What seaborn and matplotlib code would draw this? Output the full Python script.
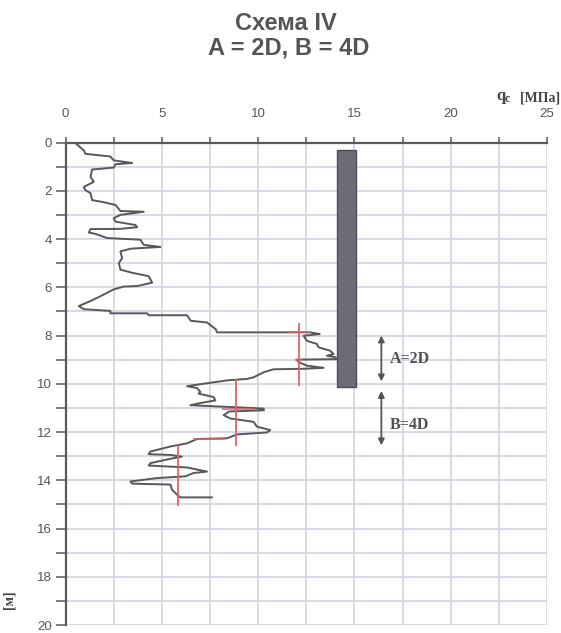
import numpy as np
import pandas as pd
import matplotlib
matplotlib.use("Agg")
import matplotlib.pyplot as plt
import seaborn as sns

# ---------------- data ----------------
depth_m = [0.05, 0.08, 0.33, 0.47, 0.58, 0.74, 0.85, 0.90, 1.04, 1.12, 1.43, 1.63, 1.70, 1.84, 1.98,
           2.10, 2.39, 2.46, 2.59, 2.84, 2.87, 3.00, 3.14, 3.28, 3.42, 3.51, 3.58, 3.59, 3.73,
           3.79, 3.96, 4.03, 4.24, 4.33, 4.40, 4.51, 4.79, 5.00, 5.27, 5.40, 5.54, 5.81, 5.95,
           5.97, 6.09, 6.37, 6.57, 6.78, 6.91, 6.98, 7.08, 7.08, 7.16, 7.16, 7.39, 7.46, 7.74,
           7.87, 7.87, 7.94, 8.01, 8.22, 8.35, 8.49, 8.63, 8.77, 8.84, 8.90, 8.98, 9.00, 9.10,
           9.25, 9.34, 9.38, 9.40, 9.52, 9.73, 9.80, 9.86, 10.00, 10.10, 10.18, 10.34, 10.41,
           10.55, 10.69, 10.80, 10.89, 10.93, 10.98, 11.03, 11.10, 11.15, 11.30, 11.44, 11.58,
           11.78, 11.92, 12.02, 12.10, 12.26, 12.29, 12.47, 12.60, 12.81, 12.92, 12.95, 13.02,
           13.11, 13.29, 13.39, 13.47, 13.64, 13.70, 13.84, 13.91, 14.05, 14.14, 14.18, 14.39,
           14.60, 14.71, 14.71]
qc_mpa = [0.55, 0.60, 0.95, 1.04, 2.33, 2.50, 3.46, 2.60, 2.50, 1.38, 1.30, 1.47, 1.30, 0.95, 1.04,
          1.30, 1.38, 1.90, 2.60, 2.85, 4.06, 2.85, 2.50, 2.60, 3.63, 3.72, 2.85, 1.30, 1.21,
          1.56, 2.16, 3.89, 4.06, 4.93, 3.40, 2.85, 2.94, 2.77, 2.85, 3.46, 4.32, 4.50, 3.72,
          3.03, 2.50, 1.82, 1.30, 0.69, 0.95, 2.33, 2.33, 4.24, 4.32, 6.31, 6.50, 7.35, 7.80,
          7.87, 12.70, 13.20, 12.36, 12.53, 13.05, 13.14, 13.74, 13.92, 13.57, 14.00, 14.09, 12.00, 12.10,
          12.53, 13.40, 12.36, 10.80, 10.30, 9.77, 9.42, 8.39, 7.17, 6.31, 6.83, 7.00, 6.91,
          7.69, 7.78, 7.00, 6.48, 7.60, 9.00, 10.29, 10.30, 8.50, 8.21, 8.56, 9.77,
          9.94, 10.63, 10.46, 8.90, 8.39, 6.83, 6.31, 5.45, 4.41, 4.32, 5.45, 6.05,
          5.45, 4.41, 4.32, 6.31, 7.35, 6.65, 6.22, 4.75, 3.37, 3.46, 5.45, 5.53,
          5.79, 5.96, 7.61]

# pile
pile_left, pile_right = 14.1, 15.1
pile_top, pile_bottom = 0.33, 10.15

# zone averages (red marks): x, depth from, depth to
avg_x = [12.14, 8.85, 5.84]
avg_top = [7.5, 9.8, 12.55]
avg_bot = [10.1, 12.6, 15.05]
# short red horizontal marks: depth, x from, x to
mark_depth = [7.87, 9.00, 11.03, 12.29]
mark_x0 = [11.5, 11.93, 8.13, 6.6]
mark_x1 = [12.7, 12.28, 9.77, 8.3]

# zone arrows
zone_labels = ["A=2D", "B=4D"]
zone_top = [8.0, 10.3]
zone_bot = [9.9, 12.55]
zone_text_y = [8.97, 11.7]
arrow_x = 16.4

x_major = [0, 5, 10, 15, 20, 25]
y_major = list(range(0, 21, 2))

# ---------------- style ----------------
sns.set_theme(style="white")
plt.rcParams["font.family"] = ["Liberation Sans", "DejaVu Sans"]

W, H = 561, 633
fig = plt.figure(figsize=(W / 100, H / 100), dpi=100)
ax = fig.add_axes([65.5 / W, 1 - 625 / H, (547 - 65.5) / W, (625 - 142.5) / H])

grid_c = "#d6d6e6"
for gx in np.arange(0, 25.01, 2.5):
    ax.axvline(gx, color=grid_c, lw=1.3, zorder=0)
for gy in range(0, 21):
    ax.axhline(gy, color=grid_c, lw=1.3, zorder=0)

df = pd.DataFrame({"depth": depth_m, "qc": qc_mpa})
sns.lineplot(data=df, x="qc", y="depth", sort=False, estimator=None,
             color="#585858", lw=1.4, ax=ax, zorder=3)

# pile
ax.bar(x=(pile_left + pile_right) / 2, height=pile_bottom - pile_top, bottom=pile_top,
       width=pile_right - pile_left, color="#6c6c76", edgecolor="#4e4e56", lw=1.0, zorder=4)

# red average lines
ax.vlines(avg_x, avg_top, avg_bot, color="#e06464", lw=1.3, zorder=5)
ax.hlines(mark_depth, mark_x0, mark_x1, color="#d86464", lw=1.1, zorder=5)

# zone arrows
for lab, t, b, ty in zip(zone_labels, zone_top, zone_bot, zone_text_y):
    ax.annotate("", xy=(arrow_x, t), xytext=(arrow_x, b),
                arrowprops=dict(arrowstyle="<|-|>", color="#555555", lw=1.3,
                                mutation_scale=9, shrinkA=0, shrinkB=0), zorder=6)
    ax.text(arrow_x + 0.45, ty, lab, fontsize=11.5, fontweight="bold",
            family=["Liberation Serif", "DejaVu Serif"], color="#505050",
            va="center", ha="left")

ax.set_xlim(0, 25)
ax.set_ylim(20, 0)
ax.xaxis.tick_top()
ax.set_xticks(x_major)
ax.set_xticks(np.arange(2.5, 25, 5), minor=True)
ax.set_yticks(y_major)
ax.set_yticks(range(1, 20, 2), minor=True)
ax.set_xticklabels([str(v) for v in x_major])
ax.set_yticklabels([str(v) for v in y_major])
ax.tick_params(axis="x", which="both", top=True, bottom=False, direction="out",
               length=4, width=1.2, color="#666666", pad=12, labelsize=9.5,
               labelcolor="#555555")
ax.tick_params(axis="y", which="both", left=True, direction="out",
               length=7, width=1.2, color="#666666", pad=3, labelsize=9.5,
               labelcolor="#555555")
ax.set_xlabel("")
ax.set_ylabel("")
for s in ["bottom", "right"]:
    ax.spines[s].set_visible(False)
for s in ["top", "left"]:
    ax.spines[s].set_color("#5a5a5a")
    ax.spines[s].set_linewidth(1.6)

# titles
fig.text(286 / W, 1 - 23 / H, "Схема IV", ha="center", va="center",
         fontsize=17, fontweight="bold", color="#555555")
fig.text(289 / W, 1 - 48 / H, "A = 2D, B = 4D", ha="center", va="center",
         fontsize=17, fontweight="bold", color="#555555")

# axis labels
serif = ["Liberation Serif", "DejaVu Serif"]
fig.text(496 / W, 1 - 96 / H, "q", ha="left", va="center", fontsize=12,
         fontweight="bold", family=serif, color="#444444")
fig.text(505 / W, 1 - 99 / H, "c", ha="left", va="center", fontsize=8.5,
         fontweight="bold", family=serif, color="#444444")
fig.text(560 / W, 1 - 98 / H, "[МПа]", ha="right", va="center", fontsize=10,
         fontweight="bold", family=serif, color="#444444")
fig.text(9 / W, 1 - 600 / H, "[м]", ha="center", va="center", rotation=90,
         fontsize=10, fontweight="bold", family=serif, color="#444444")

fig.savefig("out.png", dpi=100)
